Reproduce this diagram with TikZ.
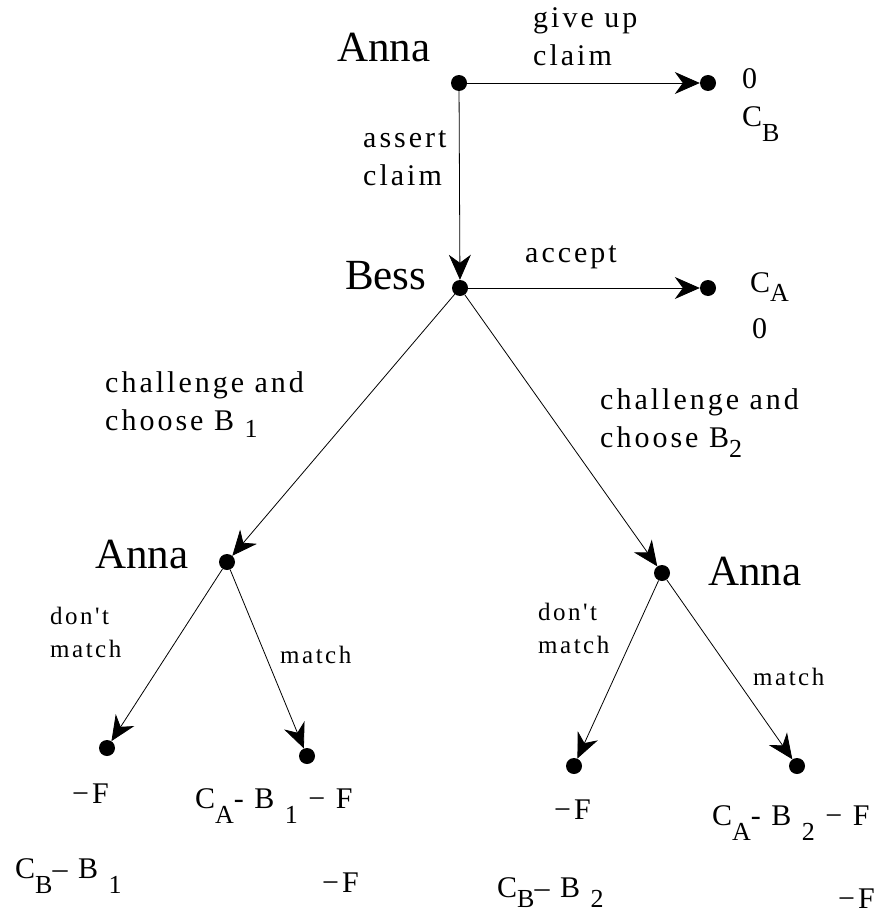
\documentclass[tikz,border=0pt]{standalone}
\usepackage{fontspec}
\setmainfont{Liberation Serif}
\newfontfamily\namefont{Liberation Serif}
\newfontfamily\lblfont[LetterSpace=10]{Liberation Serif}
\usetikzlibrary{arrows.meta}

\newcommand\lowsub[2][0.5em]{\raisebox{-#1}{\fontsize{26}{26}\selectfont #2}}

\begin{document}
\begin{tikzpicture}[x=1pt, y=-1pt,
  dot/.style={circle, fill, inner sep=0, minimum size=16pt},
  move/.style={-{Stealth[length=25pt, width=22pt, inset=8pt]}, line width=0.8pt},
  player/.style={anchor=base west, inner sep=0, font=\namefont\fontsize{43}{50}\selectfont},
  lbl/.style={anchor=base west, inner sep=0, align=left, font=\lblfont\fontsize{30}{38}\selectfont},
  lblsmall/.style={anchor=base west, inner sep=0, align=left, font=\lblfont\fontsize{25}{33}\selectfont}]
\useasboundingbox (0,0) rectangle (891,915);

% decision nodes and ends
\node[dot] (a0) at (459, 83) {};
\node[dot] (t1) at (708, 83) {};
\node[dot] (b)  at (460, 288) {};
\node[dot] (t2) at (708, 288) {};
\node[dot] (a1) at (227, 562) {};
\node[dot] (a2) at (662, 573) {};
\node[dot] (l1) at (107, 748) {};
\node[dot] (l2) at (307, 756) {};
\node[dot] (r1) at (574, 766) {};
\node[dot] (r2) at (797, 766) {};

\draw[move] (a0) -- (t1);
\draw[move] (a0) -- (b);
\draw[move] (b) -- (t2);
\draw[move] (b) -- (a1);
\draw[move] (b) -- (a2);
\draw[move] (a1) -- (l1);
\draw[move] (a1) -- (l2);
\draw[move] (a2) -- (r1);
\draw[move] (a2) -- (r2);

% players
\node[player] (annaTop)   at (337, 62)  {Anna};
\node[player] (bess)      at (345, 289) {Bess};
\node[player] (annaLeft)  at (95, 568)  {Anna};
\node[player] (annaRight) at (708, 585) {Anna};

% moves (base = last line)
\node[lbl] (giveUp)     at (533, 66)  {give up\\claim};
\node[lbl] (assert)     at (363, 185) {assert\\claim};
\node[lbl] (accept)     at (525, 262) {accept};
\node[lbl] (challOne)   at (105, 430) {challenge and\\choose B\ \lowsub[0.25em]{1}};
\node[lbl] (challTwo)   at (600, 447) {challenge and\\choose B\lowsub[0.35em]{2}};
\node[lblsmall] (noMatchL) at (50, 657)  {don't\\match};
\node[lblsmall] (matchL)   at (280, 663) {match};
\node[lblsmall] (noMatchR) at (538, 653) {don't\\match};
\node[lblsmall] (matchR)   at (753, 685) {match};

% payoffs
\node[lbl] (payGiveA)  at (742, 89)  {0};
\node[lbl] (payGiveB)  at (742, 127) {C\lowsub{B}};
\node[lbl] (payAccA)   at (750, 292) {C\lowsub[0.3em]{A}};
\node[lbl] (payAccB)   at (752, 338) {0};
\node[lbl] (payL1A)    at (72, 803)  {−F};
\node[lbl] (payL1B)    at (15, 878)  {C\lowsub{B}–\ B\ \lowsub{1}};
\node[lbl] (payL2A)    at (195, 808) {C\lowsub{A}-\ B\ \lowsub{1}\ −\ F};
\node[lbl] (payL2B)    at (322, 892) {−F};
\node[lbl] (payR1A)    at (554, 819) {−F};
\node[lbl] (payR1B)    at (497, 897) {C\lowsub[0.36em]{B}–\ B\ \lowsub[0.36em]{2}};
\node[lbl] (payR2A)    at (712, 825) {C\lowsub{A}-\ B\ \lowsub{2}\ −\ F};
\node[lbl] (payR2B)    at (838, 908) {−F};

\end{tikzpicture}
\end{document}
